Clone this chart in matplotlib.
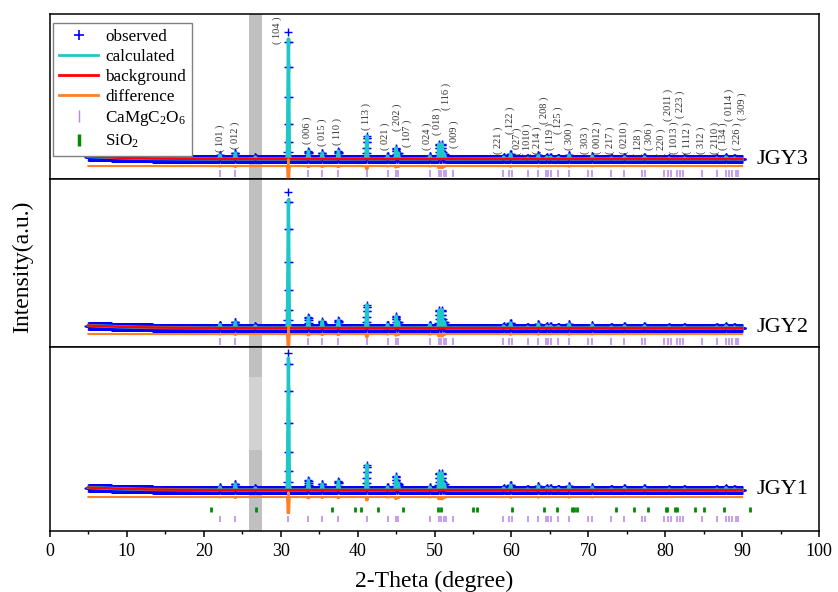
import numpy as np
import matplotlib
matplotlib.use('Agg')
import matplotlib.pyplot as plt
from matplotlib.lines import Line2D

plt.rcParams['font.family'] = ['Liberation Serif', 'Noto Sans CJK SC']
plt.rcParams['mathtext.fontset'] = 'custom'
plt.rcParams['mathtext.rm'] = 'Liberation Serif'
plt.rcParams['mathtext.it'] = 'Liberation Serif:italic'

# ---- data ----
samples = ['JGY3', 'JGY2', 'JGY1']
scan_start, scan_end, scan_step = 5.0, 90.0, 0.02

# peak positions (2-theta) and observed heights above background (a.u.)
peak_pos = [22.1, 24.1, 26.7, 31.0, 33.6, 35.4, 37.5, 41.2, 43.9, 45.0, 45.3,
            49.4, 50.6, 51.0, 51.3, 59.0, 59.9, 62.1, 63.5, 64.6, 65.1, 66.1,
            67.5, 70.5, 73.0, 74.7, 77.3, 80.5, 82.5, 86.7, 87.9, 89.0]
obs_jgy3 = [4, 6, 2, 127, 8, 6, 8, 23, 3, 11, 6,
            3, 15, 15, 5, 2, 5, 1, 4, 2, 2, 1.5,
            4, 3, 1, 2, 2, 1, 1, 1, 2, 1]
obs_jgy2 = [3.5, 6, 2, 136, 11, 7, 8, 23, 3.5, 12, 6,
            3.5, 18, 18, 6, 2, 5, 1, 4, 2, 2, 1.5,
            4, 3, 1, 2, 2, 1, 1, 1, 2, 1]
obs_jgy1 = [3, 6, 2, 137, 10, 6, 9, 25, 3, 14, 7,
            3, 17, 17, 6, 2, 5, 1, 4, 2, 2, 1.5,
            4, 3, 1, 2, 2, 1, 1, 1, 2, 1]
calc_104 = [120, 128, 132]   # fitted (104) height per sample

# background knots (a.u. above the flat level)
bg_knot_x = [5, 8, 12, 20, 90]
bg_knot_y = [2.5, 1.5, 0.6, 0.0, 0.0]

# reflection markers
dolomite_ticks = [22.1, 24.1, 31.0, 33.6, 35.4, 37.5, 41.2, 43.9, 45.0, 45.3,
                  49.4, 50.6, 50.9, 51.2, 51.5, 52.4, 58.9, 59.7, 60.1, 62.1,
                  63.5, 64.5, 64.8, 65.2, 66.1, 67.5, 70.0, 70.5, 73.0, 74.7,
                  77.0, 77.4, 79.8, 80.3, 80.8, 81.5, 81.9, 82.3, 84.8, 86.7,
                  87.9, 88.3, 88.7, 89.2, 89.5]
quartz_ticks = [20.9, 26.8, 36.7, 39.6, 40.4, 42.6, 45.9, 50.5, 50.8, 55.0,
                55.5, 60.1, 64.2, 65.9, 67.9, 68.2, 68.5, 73.6, 75.9, 77.8,
                80.1, 80.2, 81.3, 81.5, 83.9, 85.0, 87.6, 91.0]

hkl_text = ['101', '012', '104', '006', '015', '110', '113', '021', '202', '107',
            '024', '018', '116', '009', '221', '122', '027', '1010', '214',
            '208', '119', '125', '300', '303', '0012', '217', '0210', '128',
            '306', '220', '2011', '1013', '223', '1112', '312', '2110', '134',
            '0114', '226', '309']
hkl_pos = [22.1, 24.1, 29.5, 33.5, 35.4, 37.4, 41.1, 43.6, 45.1, 46.5,
           49.1, 50.3, 51.5, 52.5, 58.3, 59.8, 60.8, 62.1, 63.4,
           64.3, 65.1, 66.1, 67.5, 69.6, 71.1, 72.9, 74.7, 76.5,
           77.9, 79.5, 80.4, 81.2, 81.9, 82.8, 84.7, 86.5, 87.6,
           88.3, 89.3, 90.0]

# ---- layout (panel units ~ pixels) ----
panel_h = [165, 168, 184]
base_level = [20, 19, 41]
diff_level = [13, 13, 34]
# top edge of each rotated hkl label
hkl_top = [54, 57, 162, 62, 61, 61, 76, 56, 75, 59,
           56, 71, 96, 59, 52, 72, 51, 56, 52,
           82, 56, 73, 56, 52, 58, 52, 57, 50,
           56, 50, 90, 57, 88, 57, 52, 57, 57,
           90, 57, 87]

c_obs = '#0000ff'
c_calc = '#1ec8c8'
c_bg = '#ff0000'
c_diff = '#ff8026'
c_dol = '#b784e8'
c_qtz = '#008c00'

fig = plt.figure(figsize=(8.38, 5.92), dpi=100)
gs = fig.add_gridspec(3, 1, height_ratios=panel_h, hspace=0,
                      left=50 / 838, right=819 / 838,
                      top=1 - 14 / 592, bottom=1 - 531 / 592)
axes = [fig.add_subplot(gs[i]) for i in range(3)]

x = np.arange(scan_start, scan_end + scan_step / 2, scan_step)
bg_shape = np.interp(x, bg_knot_x, bg_knot_y)
obs_sets = [obs_jgy3, obs_jgy2, obs_jgy1]

for i, ax in enumerate(axes):
    bg = base_level[i] + bg_shape
    obs = bg.copy()
    calc = bg.copy()
    for p, h in zip(peak_pos, obs_sets[i]):
        hc = calc_104[i] if p == 31.0 else h
        obs += h * np.exp(-(x - p) ** 2 / (2 * 0.05 ** 2))
        calc += hc * np.exp(-(x - p) ** 2 / (2 * 0.06 ** 2))
    diff = obs - calc + diff_level[i]

    ax.axvspan(25.9, 27.6, color='#c0c0c0', lw=0, zorder=0)
    if i == 2:
        ax.axvspan(25.9, 27.6, ymin=81 / 184, ymax=154 / 184,
                   color='#d2d2d2', lw=0, zorder=0.5)

    ax.plot(x, obs, ls='none', marker='+', color=c_obs, ms=6, mew=1.0, zorder=2)
    ax.plot(x, calc, color=c_calc, lw=2.4, zorder=3)
    ax.plot(x, bg, color=c_bg, lw=1.8, zorder=4)
    ax.plot(x, diff, color=c_diff, lw=1.5, zorder=4)

    if i < 2:
        ax.vlines(dolomite_ticks, 2.5, 9.5, color=c_dol, lw=1.1, zorder=3)
    else:
        ax.vlines(quartz_ticks, 19, 24, color=c_qtz, lw=2.0, zorder=3)
        ax.vlines(dolomite_ticks, 9, 15, color=c_dol, lw=1.1, zorder=3)

    ax.text(91.9, base_level[i], samples[i], fontsize=16, ha='left', va='center')

    ax.set_xlim(0, 100)
    ax.set_ylim(0, panel_h[i])
    ax.set_yticks([])
    for s in ax.spines.values():
        s.set_linewidth(1.1)
    if i < 2:
        ax.tick_params(axis='x', bottom=False, labelbottom=False)

top = axes[0]
for t, p, yt in zip(hkl_text, hkl_pos, hkl_top):
    top.text(p, yt, '( ' + t + ' )', rotation=90, ha='center', va='top',
             fontsize=7.5, color='#333333', family='Liberation Serif', zorder=5)

handles = [
    Line2D([], [], ls='none', marker='+', color=c_obs, ms=7, mew=1.2),
    Line2D([], [], color=c_calc, lw=2),
    Line2D([], [], color=c_bg, lw=2),
    Line2D([], [], color=c_diff, lw=2),
    Line2D([], [], ls='none', marker='|', color=c_dol, ms=8, mew=1.0),
    Line2D([], [], ls='none', marker='|', color=c_qtz, ms=8, mew=2.5),
]
labels = ['observed', 'calculated', 'background', 'difference',
          r'CaMgC$_\mathrm{2}$O$_\mathrm{6}$', r'SiO$_\mathrm{2}$']
top.legend(handles, labels, loc='upper left', bbox_to_anchor=(0.004, 0.945),
           borderaxespad=0, fancybox=False, edgecolor='#808080', framealpha=1,
           fontsize=12.3, handlelength=2.3, handletextpad=0.4, labelspacing=0.24,
           borderpad=0.35)

bottom = axes[2]
bottom.set_xticks(np.arange(0, 101, 10))
bottom.set_xticks(np.arange(5, 100, 10), minor=True)
bottom.tick_params(axis='x', which='major', direction='out', length=4, width=1.1,
                   labelsize=13, pad=5)
bottom.tick_params(axis='x', which='minor', direction='out', length=2.2, width=1.0)

fig.text(434 / 838, 1 - 581 / 592, '2-Theta (degree)', fontsize=17,
         ha='center', va='center')
fig.text(23 / 838, 1 - 267 / 592, 'Intensity(a.u.)', fontsize=17, rotation=90,
         ha='center', va='center')

fig.savefig('out.png', dpi=100)
